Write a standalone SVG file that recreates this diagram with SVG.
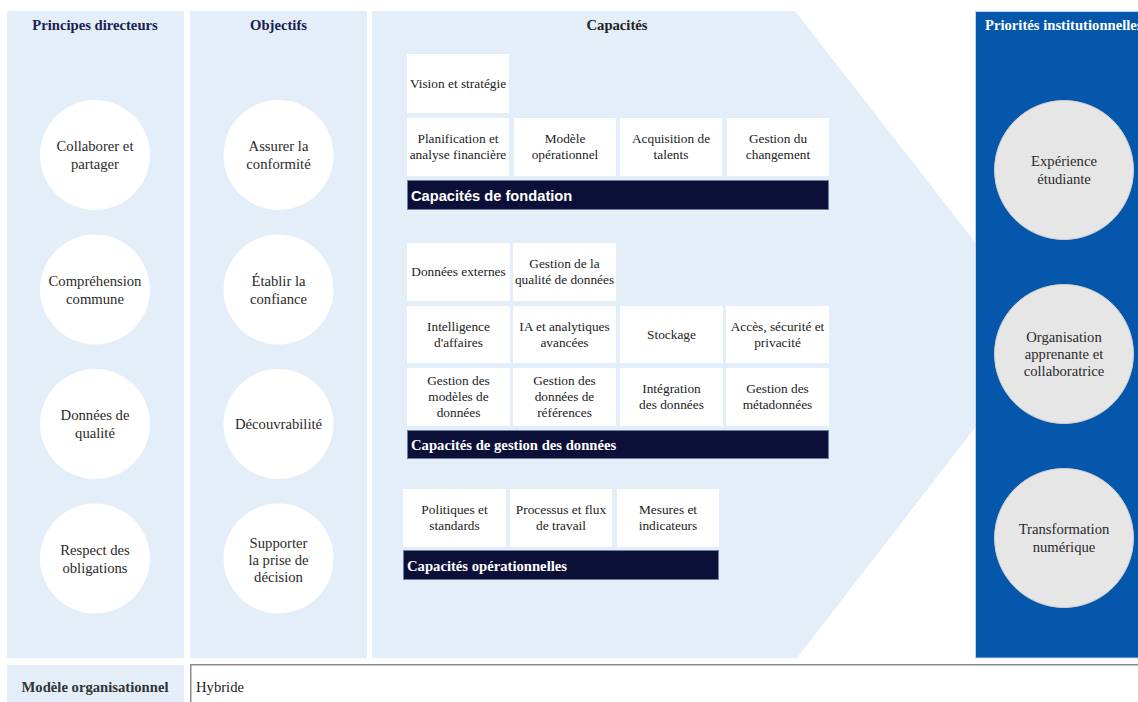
<svg xmlns="http://www.w3.org/2000/svg" width="1138" height="702" viewBox="0 0 1138 702">
<style>
.col{fill:#E3EEF8}
.hdr{font-family:"Liberation Serif","Times New Roman",serif;font-size:14.67px;font-weight:bold;fill:#1b2150;text-anchor:middle}
.circ{fill:#ffffff}
.ct{font-family:"Liberation Serif","Times New Roman",serif;font-size:14.67px;fill:#2a2a2a;text-anchor:middle}
.box{fill:#ffffff}
.bt{font-family:"Liberation Serif","Times New Roman",serif;font-size:13.33px;fill:#222;text-anchor:middle}
.bar{fill:#0c1038;stroke:#6f7f9f;stroke-width:1}
.barT{font-family:"Liberation Serif","Times New Roman",serif;font-size:14.67px;font-weight:bold;fill:#ffffff}
.barS{font-family:"Liberation Sans",Arial,sans-serif;font-size:14.67px;font-weight:bold;fill:#ffffff}
.pc{fill:#E6E6E6;stroke:#cfcfcf;stroke-width:1}
</style>
<rect width="1138" height="702" fill="#ffffff"/>

<g id="col-principes">
<rect class="col" x="7" y="11" width="177" height="647"/>
<text class="hdr" x="95" y="30">Principes directeurs</text>
<g id="p1"><circle class="circ" cx="95" cy="155" r="55"/><text class="ct" x="95" y="151">Collaborer et</text><text class="ct" x="95" y="169">partager</text></g>
<g id="p2"><circle class="circ" cx="95" cy="289.5" r="55"/><text class="ct" x="95" y="285.5">Compréhension</text><text class="ct" x="95" y="303.5">commune</text></g>
<g id="p3"><circle class="circ" cx="95" cy="424" r="55"/><text class="ct" x="95" y="420">Données de</text><text class="ct" x="95" y="438">qualité</text></g>
<g id="p4"><circle class="circ" cx="95" cy="558.5" r="55"/><text class="ct" x="95" y="554.5">Respect des</text><text class="ct" x="95" y="572.5">obligations</text></g>
</g>

<g id="col-objectifs">
<rect class="col" x="190" y="11" width="177" height="647"/>
<text class="hdr" x="278.5" y="30">Objectifs</text>
<g id="o1"><circle class="circ" cx="278.5" cy="155" r="55"/><text class="ct" x="278.5" y="151">Assurer la</text><text class="ct" x="278.5" y="169">conformité</text></g>
<g id="o2"><circle class="circ" cx="278.5" cy="289.5" r="55"/><text class="ct" x="278.5" y="285.5">Établir la</text><text class="ct" x="278.5" y="303.5">confiance</text></g>
<g id="o3"><circle class="circ" cx="278.5" cy="424" r="55"/><text class="ct" x="278.5" y="429">Découvrabilité</text></g>
<g id="o4"><circle class="circ" cx="278.5" cy="558.5" r="55"/><text class="ct" x="278.5" y="547.5">Supporter</text><text class="ct" x="278.5" y="564.5">la prise de</text><text class="ct" x="278.5" y="581.5">décision</text></g>
</g>

<g id="col-capacites">
<polygon class="col" points="372,11 795,11 1047,334.5 797,658 372,658"/>
<text class="hdr" x="617" y="30" style="fill:#222">Capacités</text>

<g id="fondation">
<g id="c-vision"><rect class="box" x="407" y="54" width="102" height="59"/><text class="bt" x="458" y="87.5">Vision et stratégie</text></g>
<g id="c-planif"><rect class="box" x="407" y="118" width="102" height="58"/><text class="bt" x="458" y="143">Planification et</text><text class="bt" x="458" y="159">analyse financière</text></g>
<g id="c-modele"><rect class="box" x="514" y="118" width="102" height="58"/><text class="bt" x="565" y="143">Modèle</text><text class="bt" x="565" y="159">opérationnel</text></g>
<g id="c-acq"><rect class="box" x="620" y="118" width="102" height="58"/><text class="bt" x="671" y="143">Acquisition de</text><text class="bt" x="671" y="159">talents</text></g>
<g id="c-chg"><rect class="box" x="727" y="118" width="102" height="58"/><text class="bt" x="778" y="143">Gestion du</text><text class="bt" x="778" y="159">changement</text></g>
<g id="bar-fondation"><rect class="bar" x="407.5" y="180.5" width="421" height="29"/><text class="barS" x="411" y="200.5">Capacités de fondation</text></g>
</g>

<g id="gestion">
<g id="g-ext"><rect class="box" x="407" y="243" width="103" height="58"/><text class="bt" x="458.5" y="276">Données externes</text></g>
<g id="g-qual"><rect class="box" x="513" y="243" width="103" height="58"/><text class="bt" x="564.5" y="268">Gestion de la</text><text class="bt" x="564.5" y="284">qualité de données</text></g>
<g id="g-bi"><rect class="box" x="407" y="306" width="103" height="57"/><text class="bt" x="458.5" y="330.5">Intelligence</text><text class="bt" x="458.5" y="346.5">d'affaires</text></g>
<g id="g-ia"><rect class="box" x="513" y="306" width="103" height="57"/><text class="bt" x="564.5" y="330.5">IA et analytiques</text><text class="bt" x="564.5" y="346.5">avancées</text></g>
<g id="g-stock"><rect class="box" x="620" y="306" width="103" height="57"/><text class="bt" x="671.5" y="338.5">Stockage</text></g>
<g id="g-acces"><rect class="box" x="726" y="306" width="103" height="57"/><text class="bt" x="777.5" y="330.5">Accès, sécurité et</text><text class="bt" x="777.5" y="346.5">privacité</text></g>
<g id="g-modeles"><rect class="box" x="407" y="368" width="103" height="58"/><text class="bt" x="458.5" y="385">Gestion des</text><text class="bt" x="458.5" y="401">modèles de</text><text class="bt" x="458.5" y="416.5">données</text></g>
<g id="g-ref"><rect class="box" x="513" y="368" width="103" height="58"/><text class="bt" x="564.5" y="385">Gestion des</text><text class="bt" x="564.5" y="401">données de</text><text class="bt" x="564.5" y="416.5">références</text></g>
<g id="g-integ"><rect class="box" x="620" y="368" width="103" height="58"/><text class="bt" x="671.5" y="393">Intégration</text><text class="bt" x="671.5" y="409">des données</text></g>
<g id="g-meta"><rect class="box" x="726" y="368" width="103" height="58"/><text class="bt" x="777.5" y="393">Gestion des</text><text class="bt" x="777.5" y="409">métadonnées</text></g>
<g id="bar-gestion"><rect class="bar" x="407.5" y="430.5" width="421" height="28"/><text class="barT" x="411" y="450">Capacités de gestion des données</text></g>
</g>

<g id="operationnelles">
<g id="op-pol"><rect class="box" x="403" y="489" width="103" height="58"/><text class="bt" x="454.5" y="514">Politiques et</text><text class="bt" x="454.5" y="530">standards</text></g>
<g id="op-proc"><rect class="box" x="510" y="489" width="102" height="58"/><text class="bt" x="561" y="514">Processus et flux</text><text class="bt" x="561" y="530">de travail</text></g>
<g id="op-mes"><rect class="box" x="617" y="489" width="102" height="58"/><text class="bt" x="668" y="514">Mesures et</text><text class="bt" x="668" y="530">indicateurs</text></g>
<g id="bar-op"><rect class="bar" x="403.5" y="550.5" width="315" height="29"/><text class="barT" x="407" y="571">Capacités opérationnelles</text></g>
</g>
</g>

<g id="col-priorites">
<rect x="975.5" y="11.5" width="170" height="646.5" fill="#0457AB" stroke="#bcd3ec" stroke-width="1"/>
<text class="hdr" x="985" y="30" style="fill:#ffffff;text-anchor:start">Priorités institutionnelles</text>
<g id="r1"><circle class="pc" cx="1064" cy="170" r="69.5"/><text class="ct" x="1064" y="166">Expérience</text><text class="ct" x="1064" y="184">étudiante</text></g>
<g id="r2"><circle class="pc" cx="1064" cy="354" r="69.5"/><text class="ct" x="1064" y="342">Organisation</text><text class="ct" x="1064" y="359">apprenante et</text><text class="ct" x="1064" y="376">collaboratrice</text></g>
<g id="r3"><circle class="pc" cx="1064" cy="538" r="69.5"/><text class="ct" x="1064" y="534">Transformation</text><text class="ct" x="1064" y="552">numérique</text></g>
</g>

<g id="row-modele">
<rect class="col" x="7" y="665" width="177" height="40"/>
<text x="95" y="692" style="font-family:'Liberation Serif','Times New Roman',serif;font-size:14.67px;font-weight:bold;fill:#333;text-anchor:middle">Modèle organisationnel</text>
<rect x="190.75" y="664.75" width="960" height="50" fill="#ffffff" stroke="#8c8c8c" stroke-width="1.5"/>
<text x="196" y="692" style="font-family:'Liberation Serif','Times New Roman',serif;font-size:14.67px;fill:#222">Hybride</text>
</g>
</svg>
